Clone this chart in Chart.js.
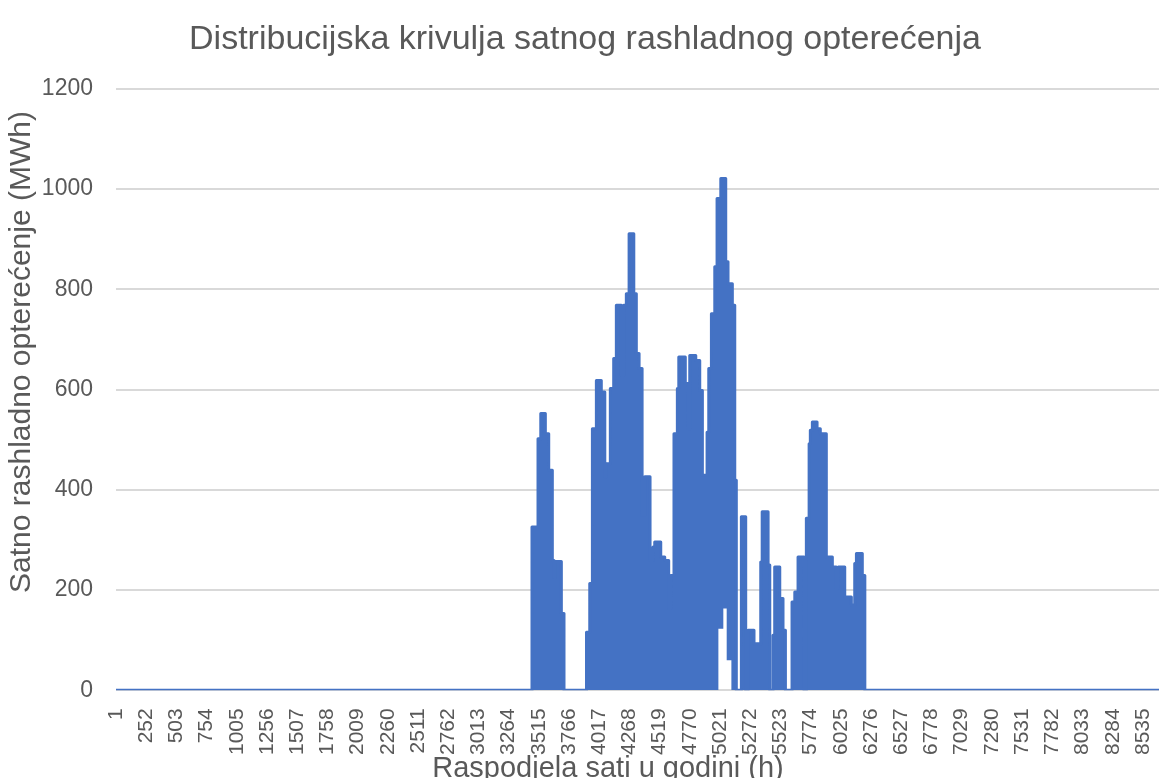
<!DOCTYPE html>
<html>
<head>
<meta charset="utf-8">
<script src="https://cdn.jsdelivr.net/npm/chart.js@4.4.0/dist/chart.umd.min.js"></script>
<style>
  html, body { margin: 0; padding: 0; overflow: hidden; background: #fff; }
  #wrap { width: 1175px; height: 790px; }
</style>
</head>
<body>
<div id="wrap"><canvas id="loadChart"></canvas></div>
<script>
// Hour at which each run starts and the daily peak load in that run (MWh)
const runStart = [1, 3458, 3508, 3531, 3569, 3597, 3627, 3641, 3652, 3702, 3724,
    3911, 3938, 3960, 3993, 4034, 4063, 4076, 4109, 4137, 4159, 4201, 4220, 4242, 4265,
    4304, 4325, 4348, 4373, 4395, 4439, 4464, 4478, 4528, 4561, 4594, 4611, 4638, 4666,
    4678, 4732, 4755, 4769, 4819, 4852, 4874, 4913, 4927, 4949, 4977, 4996, 5027, 5068,
    5087, 5123, 5143, 5156, 5198, 5234, 5254, 5303, 5359, 5371, 5420, 5434, 5461, 5475,
    5517, 5544, 5564, 5619, 5642, 5669, 5719, 5738, 5761, 5771, 5788, 5827, 5854, 5904,
    5954, 5987, 6004, 6057, 6112, 6140, 6154, 6203, 6224, 8760];
const runPeak = [0, 326, 502, 552, 512, 439, 259, 226, 257, 153, 0,
    116, 213, 522, 618, 595, 426, 452, 602, 662, 768, 628, 768, 791, 911,
    791, 672, 642, 349, 426, 259, 286, 296, 266, 259, 163, 229, 512, 602,
    665, 612, 522, 668, 658, 598, 429, 515, 642, 751, 845, 981, 1021, 855,
    811, 768, 419, 0, 346, 0, 120, 93, 256, 356, 250, 0, 110, 246,
    183, 120, 0, 176, 196, 266, 0, 343, 492, 519, 535, 522, 512, 266,
    246, 203, 246, 186, 170, 253, 273, 229, 0, 0];

// Runs where the night-time load stays above zero
const baseStart = [1, 5007, 5048, 5076, 5115, 8760];
const baseLoad = [0, 123, 163, 60, 0, 0];

const hourTicks = [1, 252, 503, 754, 1005, 1256, 1507, 1758, 2009, 2260, 2511, 2762,
    3013, 3264, 3515, 3766, 4017, 4268, 4519, 4770, 5021, 5272, 5523, 5774, 6025,
    6276, 6527, 6778, 7029, 7280, 7531, 7782, 8033, 8284, 8535];
const loadTicks = [0, 200, 400, 600, 800, 1000, 1200];

const textColor = '#595959';
const fontFamily = "'Liberation Sans', Arial, sans-serif";
Chart.defaults.font.family = fontFamily;
Chart.defaults.color = textColor;

// Axis titles, placed where the original sheet has them
const axisTitles = {
    id: 'axisTitles',
    afterDraw(chart) {
        const ctx = chart.ctx;
        ctx.save();
        ctx.fillStyle = textColor;
        ctx.textAlign = 'center';

        ctx.font = '29px ' + fontFamily;
        ctx.textBaseline = 'alphabetic';
        ctx.fillText('Raspodjela sati u godini (h)', 608, 777);

        ctx.translate(22, 352);
        ctx.rotate(-Math.PI / 2);
        ctx.font = '30px ' + fontFamily;
        ctx.textBaseline = 'middle';
        ctx.fillText('Satno rashladno opterećenje (MWh)', 0, 0);
        ctx.restore();
    }
};

new Chart(document.getElementById('loadChart'), {
    type: 'line',
    data: {
        datasets: [{
            label: 'base',
            data: baseStart.map((h, i) => ({ x: h, y: baseLoad[i] })),
            stepped: true,
            borderColor: 'rgba(0,0,0,0)',
            borderWidth: 0,
            pointRadius: 0,
            fill: false
        }, {
            label: 'Satno rashladno opterećenje',
            data: runStart.map((h, i) => ({ x: h, y: runPeak[i] })),
            stepped: true,
            borderColor: '#4472C4',
            backgroundColor: '#4472C4',
            borderWidth: 3,
            borderJoinStyle: 'round',
            pointRadius: 0,
            fill: '-1'
        }]
    },
    options: {
        responsive: true,
        maintainAspectRatio: false,
        animation: false,
        layout: {
            padding: { left: 0, right: 5, top: 0, bottom: 17 }
        },
        plugins: {
            legend: { display: false },
            tooltip: { enabled: false },
            title: {
                display: true,
                text: 'Distribucijska krivulja satnog rashladnog opterećenja',
                color: textColor,
                font: { size: 34, weight: 'normal' },
                padding: { top: 19, bottom: 29 }
            }
        },
        scales: {
            x: {
                type: 'linear',
                min: 1,
                max: 8760,
                afterBuildTicks: axis => {
                    axis.ticks = hourTicks.map(v => ({ value: v }));
                },
                afterFit: axis => {
                    axis.paddingLeft = 0;
                    axis.paddingRight = 0;
                },
                grid: { display: false, drawTicks: false },
                border: { display: false },
                ticks: {
                    autoSkip: false,
                    minRotation: 90,
                    maxRotation: 90,
                    padding: 18,
                    color: textColor,
                    font: { size: 21 },
                    callback: v => String(v)
                }
            },
            y: {
                min: 0,
                max: 1200,
                afterBuildTicks: axis => {
                    axis.ticks = loadTicks.map(v => ({ value: v }));
                },
                afterFit: axis => {
                    axis.width = 116;
                },
                grid: { color: '#d9d9d9', lineWidth: 2, drawTicks: false },
                border: { display: false },
                ticks: {
                    padding: 23,
                    color: textColor,
                    font: { size: 23 },
                    callback: v => String(v)
                }
            }
        }
    },
    plugins: [axisTitles]
});
</script>
</body>
</html>
